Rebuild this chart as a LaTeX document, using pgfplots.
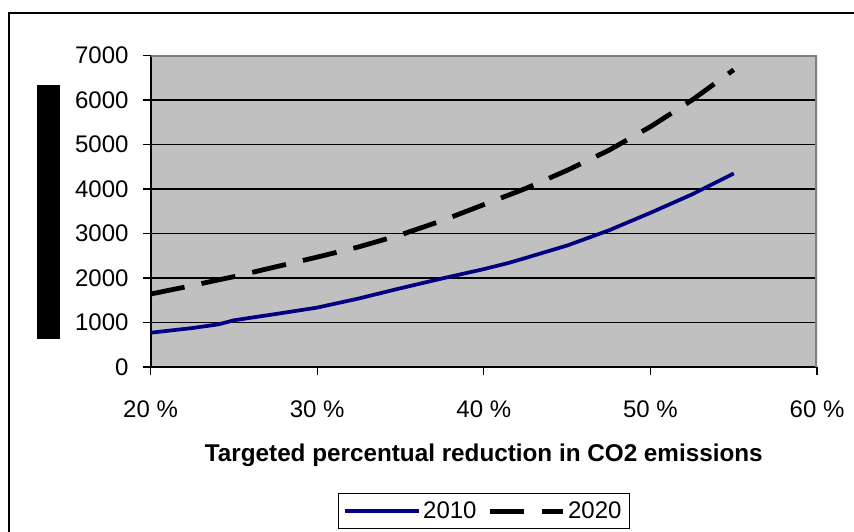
\documentclass[border=0pt]{standalone}
\usepackage{pgfplots}
\pgfplotsset{compat=1.18}
\usepackage{fontspec}
\setmainfont{Liberation Sans}

\definecolor{plotbg}{HTML}{C0C0C0}
\definecolor{plotedge}{HTML}{808080}
\definecolor{navyline}{HTML}{000080}

% Cost curves against the targeted CO2 reduction (percent)
\pgfplotstableread{
x     y
20    770
22.5  875
24.1  960
25    1050
27.5  1190
30    1335
32.5  1540
35    1770
37.5  1990
40    2200
41.5  2340
42.5  2450
45    2730
47.5  3070
50    3465
52.5  3880
55    4350
}\seriesA

\pgfplotstableread{
x     y
20    1640
22.5  1830
24.1  1960
25    2030
27.5  2250
30    2470
32.5  2700
35    2970
37.5  3290
40    3650
42.5  4010
45    4420
47.5  4870
50    5400
52.5  6000
55    6680
}\seriesB

\begin{document}
\begin{tikzpicture}
\useasboundingbox (0,0) rectangle (640.5pt,-399pt);
% outer chart frame
\draw[line width=1.5pt] (6.75pt,-410pt) -- (6.75pt,-9.75pt) -- (650pt,-9.75pt);
% vertical title block
\fill[black] (27.75pt,-63.75pt) rectangle (45pt,-254.25pt);
\begin{axis}[
  at={(112.9pt,-275.25pt)}, anchor=south west,
  scale only axis, width=499.9pt, height=233.6pt,
  xmin=20, xmax=60, ymin=0, ymax=7000,
  axis lines=left, axis line style={-, black, line width=1.5pt},
  tick align=outside, major tick length=6pt,
  tick style={black, line width=1pt},
  xtick={20,30,40,50,60},
  xticklabels={20 \%,30 \%,40 \%,50 \%,60 \%},
  ytick={0,1000,...,7000},
  ymajorgrids, major grid style={black, line width=0.9pt},
  axis background/.style={fill=plotbg},
  ticklabel style={font=\fontsize{18pt}{21pt}\selectfont},
  /pgf/number format/assume math mode=true,
  scaled y ticks=false,
  yticklabel style={/pgf/number format/1000 sep={}, xshift=-7pt},
  xticklabel style={yshift=-15.5pt},
  xlabel={Targeted percentual reduction in CO2 emissions},
  xlabel style={at={(axis description cs:0.5,-0.284)}, anchor=center,
    font=\fontsize{18.2pt}{21pt}\selectfont\bfseries},
  legend columns=2,
  legend style={at={(axis description cs:0.5,-0.406)}, anchor=north,
    draw=black, line width=0.75pt, inner xsep=4pt, inner ysep=4pt,
    font=\fontsize{18pt}{21pt}\selectfont,
    /tikz/every even column/.append style={column sep=6pt}},
  legend image code/.code={\draw[#1] (0pt,0pt) -- (55pt,0pt);},
]
\addplot[navyline, line width=2.8pt] table[x=x, y=y] {\seriesA};
\addlegendentry{2010}
\addplot[black, line width=3.6pt, dash pattern=on 26pt off 13pt] table[x=x, y=y] {\seriesB};
\addlegendentry{2020}
% grey edge of the plot area on top and right
\draw[plotedge, line width=2.5pt] (rel axis cs:0,1) -- (rel axis cs:1,1) -- (rel axis cs:1,0);
\end{axis}
\end{tikzpicture}
\end{document}
